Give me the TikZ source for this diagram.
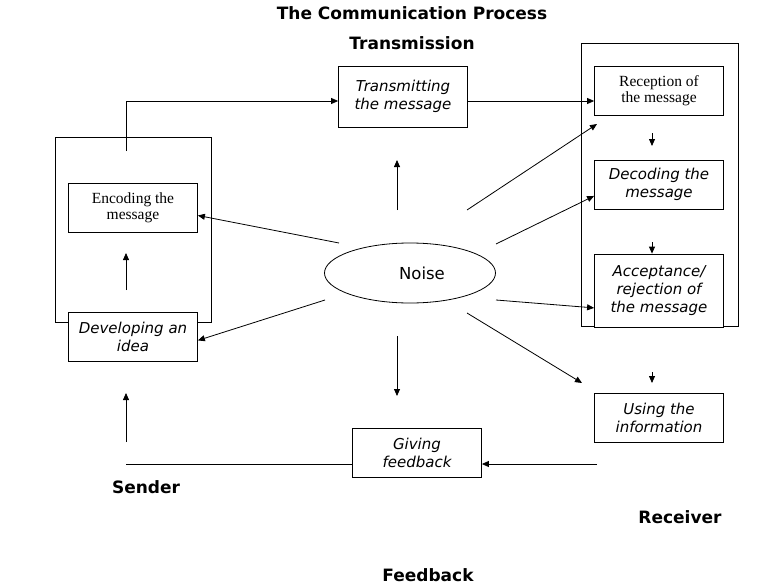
\documentclass[tikz,border=0pt]{standalone}
\usepackage{fontspec}
\setmainfont{Liberation Serif}
\setsansfont{DejaVu Sans}
\usetikzlibrary{arrows.meta,shapes.geometric}

\begin{document}
\begin{tikzpicture}[x=1pt,y=-1pt,line width=0.8pt,
  >={Triangle[length=7pt,width=6pt]},
  box/.style={draw,fill=white,align=center,minimum width=129pt,
    minimum height=49pt,inner sep=1pt,
    font=\sffamily\itshape\fontsize{15}{18}\selectfont},
  sbox/.style={box,font=\fontsize{15.5}{16}\selectfont},
  lbl/.style={font=\sffamily\bfseries\fontsize{17}{19}\selectfont}]
  \useasboundingbox (0,0) rectangle (779,586);
  \node[lbl] (title) at (412,13) {The Communication Process};
  \node[lbl] (trans) at (412,43) {Transmission};
  \node[lbl] (snd) at (146,487) {Sender};
  \node[lbl] (rcv) at (680,517) {Receiver};
  \node[lbl] (fbl) at (428,575) {Feedback};
  % sender and receiver frames
  \draw (55,137) rectangle (211,322);
  \draw (581,43) rectangle (738,326);
  \node[sbox] (enc) at (133,207.5) {Encoding the\\message};
  \node[box] (dev) at (133,337) {Developing an\\idea};
  \node[box,minimum height=61pt] (tx) at (403,96.5) {Transmitting\\the message};
  \node[sbox] (rec) at (659,90.5) {Reception of\\the message};
  \node[box] (dec) at (659,184.5) {Decoding the\\message};
  \node[box,minimum height=73pt] (acc) at (659,290.5) {Acceptance/\\rejection of\\the message};
  \node[box] (use) at (659,418) {Using the\\information};
  \node[box] (fb) at (417,453) {Giving\\feedback};
  \node[draw,ellipse,minimum width=171pt,minimum height=60pt,inner sep=0pt,
    font=\sffamily\fontsize{16.5}{18}\selectfont] (noise) at (410,273) {\hspace{24pt}Noise};
  % loose ends of the connectors
  \coordinate (s0) at (126,151);
  \coordinate (s1) at (126,101);
  \coordinate (d0) at (126,290);
  \coordinate (d1) at (126,253);
  \coordinate (f0) at (597,464);
  \coordinate (f1) at (126,464);
  \coordinate (f2) at (126,442);
  \coordinate (f3) at (126,393);
  \coordinate (r0) at (652,133);
  \coordinate (r1) at (652,146);
  \coordinate (r2) at (652,242);
  \coordinate (r3) at (652,372);
  \coordinate (r4) at (652,383);
  \coordinate (n1) at (339,243);
  \coordinate (n2) at (325,300);
  \coordinate (n3) at (467,210);
  \coordinate (n4) at (496,244);
  \coordinate (n5) at (496,300);
  \coordinate (n6) at (467,313);
  \coordinate (n7) at (397,210);
  \coordinate (n8) at (397,160);
  \coordinate (n9) at (397,336);
  \coordinate (n10) at (397,396);
  \coordinate (e3) at (597,124);
  \coordinate (e6) at (582,383);
  % transmission path
  \draw[->] (s0) -- (s1) -- (s1 -| tx.west);
  \draw[->] (s1 -| tx.east) -- (s1 -| rec.west);
  \draw[->] (d0) -- (d1);
  \draw[->] (r0) -- (r1);
  \draw[->] (r2) -- (acc.north -| r2);
  \draw[->] (r3) -- (r4);
  % noise
  \draw[->] (n1) -- (enc.-7);
  \draw[->] (n2) -- (dev.-3);
  \draw[->] (n3) -- (e3);
  \draw[->] (n4) -- (dec.190);
  \draw[->] (n5) -- (acc.195);
  \draw[->] (n6) -- (e6);
  \draw[->] (n7) -- (n8);
  \draw[->] (n9) -- (n10);
  % feedback path
  \draw[->] (f0) -- (f0 -| fb.east);
  \draw (f0 -| fb.west) -- (f1);
  \draw[->] (f2) -- (f3);
\end{tikzpicture}
\end{document}
